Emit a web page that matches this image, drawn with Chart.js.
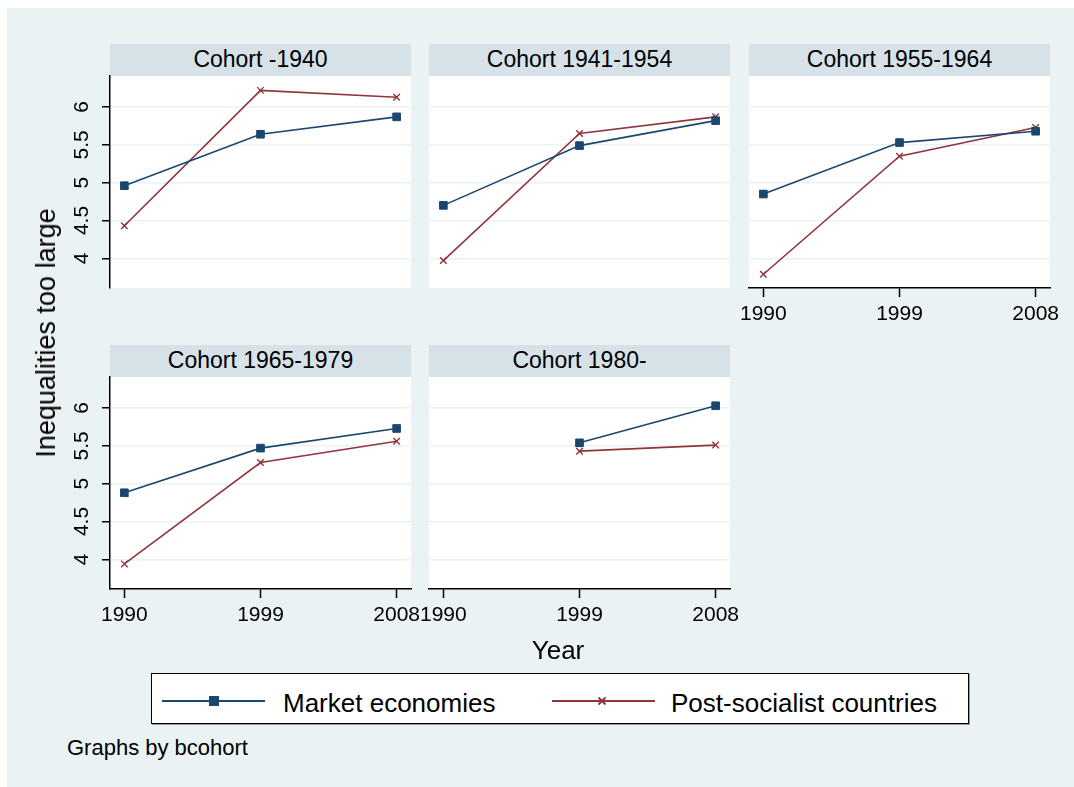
<!DOCTYPE html>
<html>
<head>
<meta charset="utf-8">
<title>Inequalities too large by cohort</title>
<script src="https://cdn.jsdelivr.net/npm/chart.js@4.4.1/dist/chart.umd.min.js"></script>
<style>
  html, body { margin: 0; padding: 0; background: #ffffff; }
  #page { position: relative; width: 1074px; height: 787px; overflow: hidden;
          font-family: "Liberation Sans", Arial, sans-serif; color: #000; }
  #bg { position: absolute; left: 7px; top: 8px; right: 0; bottom: 0; background: #eaf2f3; }
  .strip { position: absolute; height: 32px; background: #d6e2e7; font-size: 23px;
           line-height: 30px; text-align: center; white-space: nowrap; }
  canvas { position: absolute; }
  .txt { position: absolute; white-space: nowrap; }
  #ytitle { left: 46px; top: 333px; font-size: 27px; line-height: 30px;
            transform: translate(-50%, -50%) rotate(-90deg); }
  #xtitle { left: 558px; top: 635px; font-size: 26px; line-height: 30px; transform: translateX(-50%); }
  #legend { position: absolute; left: 151px; top: 673px; width: 816px; height: 49px;
            background: #fff; border: 1px solid #000; box-shadow: 1px 1px 0 #9a9a9a; }
  .legtxt { font-size: 26px; line-height: 30px; top: 688px; }
  #note { left: 67px; top: 735px; font-size: 22px; line-height: 26px; }
  svg.sym { position: absolute; overflow: visible; }
</style>
</head>
<body>
<div id="page">
  <div id="bg"></div>
</div>
<script>
// ---- data -------------------------------------------------------------
const years = [1990, 1999, 2008];
const yTickValues = [4, 4.5, 5, 5.5, 6];
const seriesNames = ['Market economies', 'Post-socialist countries'];
const cohortTitles = ['Cohort -1940', 'Cohort 1941-1954', 'Cohort 1955-1964', 'Cohort 1965-1979', 'Cohort 1980-'];

const marketCohort1940 = [4.96, 5.64, 5.87];
const marketCohort1954 = [4.70, 5.49, 5.82];
const marketCohort1964 = [4.85, 5.53, 5.68];
const marketCohort1979 = [4.88, 5.47, 5.73];
const marketCohort1980 = [null, 5.54, 6.03];

const postCohort1940 = [4.43, 6.22, 6.13];
const postCohort1954 = [3.97, 5.65, 5.87];
const postCohort1964 = [3.79, 5.35, 5.73];
const postCohort1979 = [3.94, 5.28, 5.56];
const postCohort1980 = [null, 5.43, 5.51];

// ---- styling ----------------------------------------------------------
const NAVY = '#1a476f';
const MAROON = '#90353b';
const GRID = '#eaf2f3';
const FONT = '"Liberation Sans", Arial, sans-serif';
const X_RANGE = [1989.05, 2008.95];
const Y_RANGE = [3.608, 6.41];

// panel layout: plot rectangle + which axes are shown
const panels = [
  { title: cohortTitles[0], market: marketCohort1940, post: postCohort1940, x: 110, y: 76,  w: 301, h: 212, yAxis: true,  xAxis: false },
  { title: cohortTitles[1], market: marketCohort1954, post: postCohort1954, x: 429, y: 76,  w: 301, h: 212, yAxis: false, xAxis: false },
  { title: cohortTitles[2], market: marketCohort1964, post: postCohort1964, x: 749, y: 76,  w: 301, h: 212, yAxis: false, xAxis: true  },
  { title: cohortTitles[3], market: marketCohort1979, post: postCohort1979, x: 110, y: 377, w: 301, h: 212, yAxis: true,  xAxis: true  },
  { title: cohortTitles[4], market: marketCohort1980, post: postCohort1980, x: 429, y: 377, w: 301, h: 212, yAxis: false, xAxis: true  }
];

const page = document.getElementById('page');

// white plot region behind grid and lines
const plotBackground = {
  id: 'plotBackground',
  beforeDraw(chart) {
    const a = chart.chartArea, ctx = chart.ctx;
    ctx.save();
    ctx.fillStyle = '#ffffff';
    ctx.fillRect(a.left, a.top, a.right - a.left, a.bottom - a.top);
    ctx.restore();
  }
};

function zeroPad(s) { s.paddingLeft = 0; s.paddingRight = 0; s.paddingTop = 0; s.paddingBottom = 0; }

function makePanel(p) {
  const PADL = 60, PADT = 10, PADR = 32, PADB = 50;

  const strip = document.createElement('div');
  strip.className = 'strip';
  strip.style.left = p.x + 'px';
  strip.style.top = (p.y - 32) + 'px';
  strip.style.width = p.w + 'px';
  strip.textContent = p.title;
  page.appendChild(strip);

  const cv = document.createElement('canvas');
  cv.width = p.w + PADL + PADR;
  cv.height = p.h + PADT + PADB;
  cv.style.left = (p.x - PADL) + 'px';
  cv.style.top = (p.y - PADT) + 'px';
  page.appendChild(cv);

  const pts = vals => years.map((yr, i) => ({ x: yr, y: vals[i] }));

  new Chart(cv, {
    type: 'line',
    data: {
      datasets: [
        { label: seriesNames[0], data: pts(p.market), borderColor: NAVY, backgroundColor: NAVY,
          borderWidth: 1.6, pointStyle: 'rect', pointRadius: 5.4, pointBorderWidth: 1,
          pointBackgroundColor: NAVY, pointBorderColor: NAVY, tension: 0, spanGaps: false },
        { label: seriesNames[1], data: pts(p.post), borderColor: MAROON, backgroundColor: MAROON,
          borderWidth: 1.6, pointStyle: 'crossRot', pointRadius: 4.6, pointBorderWidth: 1.4,
          pointBorderColor: MAROON, tension: 0, spanGaps: false }
      ]
    },
    options: {
      responsive: false,
      animation: false,
      devicePixelRatio: 1,
      layout: { padding: { left: 0, top: PADT, right: PADR, bottom: 0 } },
      plugins: { legend: { display: false }, tooltip: { enabled: false }, title: { display: false } },
      scales: {
        x: {
          type: 'linear', position: 'bottom', min: X_RANGE[0], max: X_RANGE[1],
          afterBuildTicks: s => { s.ticks = years.map(v => ({ value: v })); },
          afterFit: s => { s.height = PADB; zeroPad(s); },
          border: { display: p.xAxis, color: '#000', width: 1.5 },
          grid: { display: p.xAxis, drawOnChartArea: false, drawTicks: true, tickLength: 9,
                  tickColor: '#000', tickWidth: 1.5 },
          ticks: { display: p.xAxis, autoSkip: false, maxRotation: 0, minRotation: 0, padding: 5,
                   color: '#000', font: { family: FONT, size: 21 }, callback: v => String(v) }
        },
        y: {
          type: 'linear', position: 'left', min: Y_RANGE[0], max: Y_RANGE[1],
          afterBuildTicks: s => { s.ticks = yTickValues.map(v => ({ value: v })); },
          afterFit: s => { s.width = PADL; zeroPad(s); },
          border: { display: p.yAxis, color: '#000', width: 1.5 },
          grid: { color: GRID, lineWidth: 1.5, drawOnChartArea: true, drawTicks: p.yAxis, tickLength: 8,
                  tickColor: '#000', tickWidth: 1.5 },
          ticks: { display: p.yAxis, minRotation: 90, maxRotation: 90, crossAlign: 'center', padding: 5,
                   color: '#000', font: { family: FONT, size: 21 }, callback: v => String(v) }
        }
      }
    },
    plugins: [plotBackground]
  });
}

panels.forEach(makePanel);

// ---- axis titles, legend, note ----------------------------------------
function addText(id, cls, text) {
  const d = document.createElement('div');
  if (id) d.id = id;
  d.className = cls;
  d.textContent = text;
  page.appendChild(d);
  return d;
}
addText('ytitle', 'txt', 'Inequalities too large');
addText('xtitle', 'txt', 'Year');

const legend = document.createElement('div');
legend.id = 'legend';
page.appendChild(legend);

const SVGNS = 'http://www.w3.org/2000/svg';
function legendSymbol(left, color, marker) {
  const svg = document.createElementNS(SVGNS, 'svg');
  svg.setAttribute('class', 'sym');
  svg.setAttribute('width', '104');
  svg.setAttribute('height', '20');
  svg.style.left = left + 'px';
  svg.style.top = '690.5px';
  const line = document.createElementNS(SVGNS, 'line');
  line.setAttribute('x1', '0'); line.setAttribute('x2', '103');
  line.setAttribute('y1', '10'); line.setAttribute('y2', '10');
  line.setAttribute('stroke', color); line.setAttribute('stroke-width', '2.2');
  svg.appendChild(line);
  if (marker === 'square') {
    const r = document.createElementNS(SVGNS, 'rect');
    r.setAttribute('x', '47'); r.setAttribute('y', '5'); r.setAttribute('width', '10'); r.setAttribute('height', '10');
    r.setAttribute('fill', color);
    svg.appendChild(r);
  } else {
    const path = document.createElementNS(SVGNS, 'path');
    path.setAttribute('d', 'M46.5 6.5 L53.5 13.5 M53.5 6.5 L46.5 13.5');
    path.setAttribute('stroke', color); path.setAttribute('stroke-width', '1.8');
    svg.appendChild(path);
  }
  page.appendChild(svg);
}
legendSymbol(162, NAVY, 'square');
legendSymbol(552, MAROON, 'x');
const l1 = addText(null, 'txt legtxt', seriesNames[0]); l1.style.left = '283px';
const l2 = addText(null, 'txt legtxt', seriesNames[1]); l2.style.left = '671px';

addText('note', 'txt', 'Graphs by bcohort');
</script>
</body>
</html>
